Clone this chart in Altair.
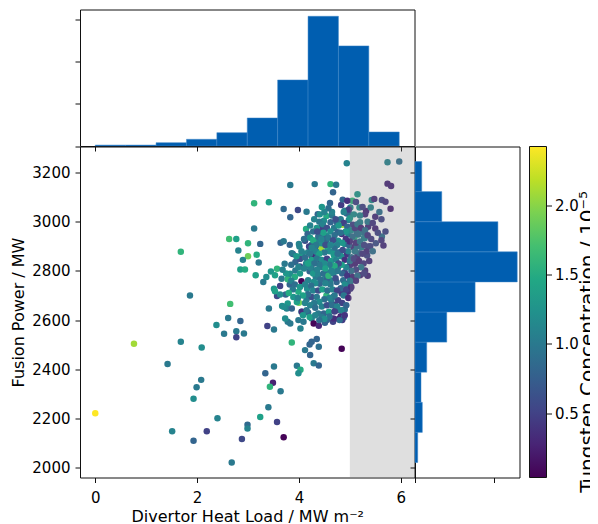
import altair as alt
import pandas as pd

# ---- scatter points: (divertor heat load [MW m^-2], fusion power [MW], tungsten conc. [1e-5]) ----
upper_points = [
    (4.94, 3238, 1.1), (5.74, 3242, 1.1), (5.97, 3245, 0.9), (3.83, 3149, 1.0), (4.31, 3153, 1.0),
    (4.62, 3153, 1.6), (4.73, 3150, 1.0), (4.67, 3120, 0.8), (5.74, 3155, 0.3), (5.81, 3145, 0.3),
    (5.15, 3112, 1.3), (5.05, 3085, 1.6), (3.12, 3075, 1.6), (3.41, 3079, 1.4), (3.70, 3052, 0.85),
    (3.98, 3048, 0.55), (4.15, 3041, 1.0), (4.37, 3031, 0.8), (3.83, 3018, 0.8), (4.61, 3076, 0.8),
    (4.83, 3068, 0.45), (4.90, 3045, 1.0), (4.94, 3034, 0.8), (5.19, 3058, 1.2), (5.32, 3044, 0.3),
    (5.43, 3088, 1.2), (5.48, 3093, 0.35), (5.63, 3088, 0.5), (5.70, 3081, 0.4), (5.41, 3058, 1.1),
    (5.80, 3053, 0.25), (4.54, 3023, 1.5), (4.65, 3025, 1.0), (4.49, 3004, 1.2), (4.62, 2998, 0.8),
    (4.74, 2998, 0.8), (4.86, 2988, 2.1), (4.98, 3007, 1.1), (5.06, 2988, 0.5), (5.20, 2998, 1.1),
    (5.26, 2957, 0.9), (5.36, 2980, 0.35), (5.50, 2973, 0.3), (5.62, 3010, 0.5), (5.63, 2940, 0.9),
    (5.51, 2913, 0.6), (5.66, 2903, 0.35), (3.12, 2973, 1.0), (4.14, 2971, 1.5), (4.17, 2950, 0.8),
    (4.43, 2975, 0.5), (4.51, 2971, 0.5), (4.42, 2950, 1.0), (4.54, 2944, 1.2), (4.69, 2975, 1.0),
    (4.76, 2957, 0.8), (4.84, 2950, 0.35), (4.97, 2950, 1.1), (5.09, 2937, 1.5), (5.17, 2948, 1.1),
    (5.28, 2934, 1.0),
]
middle_points = [
    (2.63, 2930, 1.7), (2.77, 2930, 1.4), (3.00, 2913, 1.6), (3.24, 2910, 0.8), (3.64, 2915, 0.8),
    (3.70, 2921, 1.0), (3.82, 2906, 0.8), (4.12, 2923, 0.6), (4.25, 2907, 0.95), (4.37, 2923, 1.1),
    (4.46, 2910, 1.0), (4.54, 2923, 0.8), (4.64, 2910, 1.4), (4.77, 2923, 1.2), (4.90, 2910, 1.2),
    (5.07, 2896, 0.35), (5.23, 2896, 1.1), (5.36, 2899, 0.5), (1.68, 2878, 1.6), (2.81, 2883, 1.1),
    (3.00, 2860, 1.9), (3.17, 2866, 1.5), (2.90, 2845, 1.1), (3.21, 2834, 1.0), (3.88, 2869, 0.6),
    (4.01, 2899, 1.1), (4.07, 2872, 1.2), (4.18, 2876, 1.1), (4.29, 2863, 0.8), (4.44, 2893, 2.1),
    (4.56, 2896, 1.5), (4.69, 2863, 1.4), (4.80, 2876, 0.8), (4.94, 2867, 0.4), (5.03, 2856, 0.9),
    (5.15, 2863, 0.35), (5.34, 2863, 0.5), (2.85, 2806, 1.4), (2.94, 2806, 1.5), (3.15, 2782, 1.4),
    (3.30, 2755, 1.0), (3.45, 2798, 1.3), (3.57, 2809, 1.6), (3.53, 2782, 1.4), (3.63, 2739, 0.5),
    (3.79, 2768, 1.2), (3.82, 2745, 0.8), (3.72, 2829, 1.0), (4.02, 2818, 0.55), (4.14, 2829, 1.1),
    (4.21, 2799, 0.8), (4.34, 2802, 1.4), (4.44, 2816, 1.2), (4.54, 2795, 1.0), (4.65, 2809, 1.3),
    (4.77, 2816, 0.8), (4.90, 2795, 0.5), (5.00, 2822, 0.35), (5.10, 2829, 0.3), (5.20, 2782, 0.3),
    (5.30, 2802, 0.35), (5.35, 2780, 0.3), (4.05, 2758, 0.05), (4.18, 2762, 1.1), (4.33, 2775, 1.0),
    (4.41, 2748, 0.8), (4.51, 2768, 1.2), (4.62, 2762, 1.1), (4.74, 2755, 0.8), (4.87, 2762, 0.9),
    (4.97, 2748, 0.5),
]
lower_points = [
    (1.86, 2700, 1.0), (2.65, 2666, 1.7), (3.51, 2728, 1.3), (3.57, 2698, 0.55), (3.74, 2704, 0.8),
    (3.67, 2657, 1.2), (3.78, 2668, 1.3), (3.89, 2694, 1.3), (3.99, 2715, 1.5), (4.00, 2671, 1.9),
    (4.15, 2684, 1.0), (4.25, 2694, 0.6), (4.35, 2694, 1.0), (4.54, 2700, 1.6), (4.67, 2694, 0.8),
    (4.77, 2681, 0.5), (4.84, 2708, 0.45), (4.96, 2715, 0.35), (3.41, 2647, 1.0), (3.76, 2647, 1.1),
    (4.05, 2634, 0.9), (4.18, 2631, 0.8), (4.25, 2607, 1.1), (4.38, 2627, 1.0), (4.49, 2627, 0.8),
    (4.59, 2634, 1.4), (4.71, 2657, 0.35), (4.82, 2616, 0.3), (4.90, 2643, 0.9), (4.88, 2611, 0.95),
    (3.78, 2593, 1.0), (3.99, 2600, 1.0), (4.03, 2566, 1.1), (4.29, 2586, 0.05), (4.39, 2577, 0.3),
    (4.51, 2589, 0.8), (4.67, 2593, 0.5), (2.38, 2580, 1.2), (2.61, 2609, 1.0), (2.85, 2596, 0.8),
    (2.53, 2545, 1.0), (2.77, 2555, 1.0), (2.92, 2546, 1.0), (2.77, 2530, 0.5), (3.38, 2576, 0.5),
    (3.51, 2562, 1.0), (0.76, 2504, 2.1), (1.68, 2512, 1.1), (2.09, 2489, 1.2), (1.42, 2422, 1.0),
    (3.86, 2509, 1.6), (4.25, 2512, 0.8), (4.35, 2523, 0.8), (4.21, 2501, 0.8), (4.12, 2478, 1.0),
    (4.22, 2458, 0.8), (4.39, 2492, 0.9), (4.84, 2484, 0.05), (3.51, 2411, 1.0), (3.34, 2384, 0.8),
    (3.96, 2414, 1.0), (4.03, 2398, 1.5), (3.99, 2384, 1.2), (4.29, 2425, 1.0), (4.39, 2415, 0.8),
    (2.08, 2357, 1.0), (1.99, 2327, 1.0), (1.93, 2280, 1.2), (3.49, 2345, 0.25), (3.43, 2329, 1.6),
    (3.64, 2311, 1.0), (3.40, 2246, 1.0), (3.24, 2206, 1.4), (2.40, 2201, 1.1), (0.00, 2221, 2.43),
    (1.51, 2148, 1.1), (2.19, 2148, 0.5), (1.93, 2109, 0.8), (2.99, 2175, 0.85), (2.99, 2159, 1.1),
    (2.88, 2117, 0.55), (3.57, 2186, 0.5), (3.70, 2124, 0.05), (2.68, 2021, 1.0),
]
extra_points = [
    (4.41, 3030, 1.2), (4.02, 2859, 1.4), (4.25, 2859, 0.3), (4.34, 2879, 1.2), (4.42, 2940, 0.5),
    (4.50, 2937, 0.8), (4.44, 2913, 1.2), (4.20, 2899, 0.5), (4.32, 2899, 0.45), (3.86, 2872, 1.0),
    (3.36, 2775, 1.2), (3.66, 2768, 1.0), (3.78, 2766, 1.6), (3.83, 2789, 1.2), (3.93, 2802, 1.0),
    (3.93, 2836, 0.8), (3.99, 2816, 1.1), (4.02, 2849, 0.6), (4.16, 2836, 1.2), (4.25, 2809, 1.0),
    (4.34, 2795, 0.8), (4.42, 2843, 0.35), (4.48, 2816, 1.0), (4.55, 2768, 0.8), (4.29, 2755, 1.2),
    (4.16, 2728, 1.2), (3.88, 2725, 1.0), (3.63, 2704, 1.2), (3.53, 2717, 1.4), (3.70, 2654, 1.2),
    (3.86, 2647, 0.8), (3.96, 2674, 1.4), (4.06, 2634, 0.35), (4.21, 2613, 1.4), (4.45, 2613, 1.0),
    (4.55, 2600, 0.8), (4.09, 2593, 1.0), (3.83, 2586, 1.0), (3.73, 2607, 1.2), (5.01, 3058, 1.1),
    (4.98, 3034, 0.8), (5.00, 3014, 1.3), (5.13, 2960, 0.9), (5.29, 2933, 1.1), (5.14, 2899, 0.9),
    (5.19, 2872, 0.8), (5.01, 2755, 1.0), (5.01, 2728, 0.4), (4.89, 2715, 0.5), (4.64, 2675, 1.0),
    (4.74, 2640, 0.5), (4.85, 2600, 0.45), (4.78, 2605, 0.3), (4.68, 2607, 0.35), (4.71, 2661, 0.5),
]
shaded_core_points = [
    (4.82, 3010, 1.0), (4.88, 2995, 0.5), (4.95, 2980, 0.8), (5.02, 2965, 1.2), (5.10, 2975, 0.4),
    (5.15, 2990, 1.0), (5.22, 2975, 0.3), (5.30, 2965, 0.9), (5.35, 2945, 0.4), (5.05, 2940, 0.9),
    (4.92, 2930, 0.4), (4.85, 2915, 1.3), (4.98, 2905, 0.8), (5.12, 2915, 0.35), (5.20, 2920, 1.0),
    (5.28, 2905, 0.5), (5.33, 2880, 0.35), (5.25, 2870, 0.4), (5.10, 2880, 1.0), (4.97, 2880, 1.1),
    (4.86, 2885, 0.6), (4.83, 2860, 1.2), (4.90, 2845, 0.35), (5.00, 2840, 1.0), (5.08, 2850, 0.45),
    (5.18, 2840, 0.3), (5.27, 2830, 0.4), (5.22, 2815, 1.0), (5.12, 2805, 0.5), (5.03, 2800, 0.9),
    (4.93, 2815, 1.1), (4.84, 2825, 1.4), (4.85, 2790, 0.8), (4.95, 2780, 0.4), (5.05, 2775, 0.3),
    (5.15, 2780, 0.9), (5.28, 2790, 0.45), (5.12, 2760, 0.35), (5.00, 2760, 1.0), (4.90, 2745, 1.2),
    (4.82, 2730, 0.8), (4.93, 2725, 0.5), (5.03, 2735, 0.35), (4.88, 2700, 1.0), (4.97, 2690, 0.3),
    (4.85, 2670, 0.5), (4.93, 2660, 0.8), (4.83, 2640, 1.1), (4.90, 2620, 0.4), (4.80, 2600, 0.9),
    (5.40, 2900, 0.5), (5.45, 2880, 0.9), (5.38, 2840, 0.35), (5.42, 2930, 0.45), (5.35, 3000, 1.0),
    (5.45, 2995, 0.4), (5.55, 2955, 0.5), (5.50, 3020, 0.35), (5.62, 2925, 0.4), (5.70, 2960, 0.5),
    (5.58, 3040, 0.9), (5.30, 3030, 0.35), (5.25, 3060, 0.5), (5.08, 3030, 1.2), (4.98, 3050, 0.45),
    (4.88, 3040, 1.1), (4.86, 3090, 0.8), (4.95, 3085, 0.35), (5.12, 3080, 0.5), (5.20, 3025, 1.1),
    (5.15, 2950, 0.9), (5.00, 2920, 0.35), (4.92, 2960, 1.3), (4.82, 2955, 0.9),
]
central_core_points = [
    (4.22, 2985, 1.1), (4.28, 2960, 0.9), (4.35, 2975, 1.3), (4.40, 3000, 1.0), (4.47, 2990, 1.1),
    (4.55, 2975, 0.6), (4.62, 2960, 1.2), (4.70, 2945, 0.9), (4.78, 2985, 1.3), (4.72, 3010, 0.6),
    (4.65, 3040, 1.1), (4.58, 3055, 0.9), (4.50, 3040, 1.1), (4.45, 3060, 1.3), (4.30, 3010, 1.1),
    (4.22, 2935, 1.3), (4.28, 2925, 1.5), (4.38, 2940, 0.9), (4.48, 2955, 1.4), (4.58, 2935, 1.0),
    (4.67, 2925, 0.6), (4.75, 2905, 1.1), (4.70, 2890, 0.9), (4.60, 2880, 1.2), (4.50, 2875, 1.0),
    (4.40, 2870, 1.4), (4.30, 2885, 1.1), (4.22, 2870, 1.0), (4.25, 2845, 1.4), (4.35, 2850, 1.0),
    (4.45, 2845, 1.2), (4.55, 2850, 0.5), (4.63, 2840, 1.3), (4.73, 2845, 1.1), (4.78, 2830, 0.6),
    (4.70, 2820, 1.5), (4.60, 2825, 1.0), (4.50, 2830, 1.2), (4.40, 2825, 1.0), (4.30, 2830, 0.9),
    (4.22, 2815, 1.1), (4.28, 2790, 1.3), (4.38, 2785, 1.1), (4.48, 2790, 0.9), (4.58, 2780, 1.6),
    (4.68, 2790, 1.1), (4.76, 2800, 1.0), (4.72, 2770, 0.6), (4.62, 2745, 1.0), (4.52, 2750, 1.1),
    (4.42, 2765, 0.9), (4.32, 2750, 1.2), (4.24, 2740, 0.9), (4.28, 2720, 1.1), (4.38, 2720, 0.6),
    (4.46, 2725, 1.4), (4.56, 2720, 0.9), (4.66, 2725, 1.1), (4.75, 2720, 0.5), (4.70, 2700, 1.0),
    (4.60, 2690, 1.1), (4.50, 2685, 0.9), (4.40, 2675, 1.2), (4.30, 2670, 1.0), (4.22, 2660, 1.1),
    (4.32, 2650, 0.9), (4.45, 2655, 1.1), (4.55, 2660, 0.6), (4.65, 2660, 0.9), (4.75, 2655, 1.1),
    (4.70, 2635, 0.5), (4.60, 2615, 0.9), (4.50, 2605, 1.2), (4.40, 2600, 0.9), (4.32, 2620, 1.1),
    (4.36, 2960, 0.6), (4.44, 2930, 1.1), (4.52, 2905, 0.6), (4.62, 2905, 1.1), (4.34, 2905, 1.0),
    (4.25, 2895, 1.1), (4.68, 2870, 1.3), (4.76, 2870, 0.9), (4.52, 2810, 1.4), (4.36, 2805, 1.1),
    (4.64, 2800, 1.1),
    (3.85, 2825, 0.9), (3.95, 2860, 1.3), (4.05, 2880, 1.1), (4.12, 2855, 0.9), (4.18, 2830, 1.4),
    (4.10, 2810, 1.1), (4.02, 2790, 1.3), (3.92, 2775, 1.5), (3.85, 2760, 1.1), (3.75, 2790, 1.3),
    (3.68, 2805, 1.1), (3.92, 2745, 0.9), (4.02, 2735, 1.3), (4.12, 2745, 1.1), (4.18, 2705, 0.9),
    (4.08, 2700, 1.4), (3.98, 2690, 1.1), (3.80, 2710, 1.5), (4.12, 2670, 1.1), (4.15, 2640, 1.0),
    (4.08, 2620, 1.3), (4.00, 2910, 1.1), (4.10, 2930, 0.9),
]

# ---- marginal histograms (bin edges and densities) ----
heat_bin_edges = [0.0, 0.597, 1.194, 1.791, 2.388, 2.985, 3.582, 4.179, 4.776, 5.373, 5.970]
heat_density = [0.0043, 0.0043, 0.0156, 0.0317, 0.0629, 0.1324, 0.312, 0.613, 0.473, 0.0662]
power_bin_edges = [2021, 2143.4, 2265.8, 2388.2, 2510.6, 2633.0, 2755.4, 2877.8, 3000.2, 3122.6, 3245.0]
power_density = [0.000068, 0.000184, 0.000151, 0.000295, 0.000799, 0.001513,
                  0.002573, 0.002086, 0.000673, 0.000169]

# ---- axes ----
heat_limit = 5.0
x_domain = [-0.30, 6.27]
y_domain = [1960, 3306]
c_domain = [0.033, 2.43]
x_ticks = [0, 2, 4, 6]
y_ticks = [2000, 2200, 2400, 2600, 2800, 3000, 3200]
c_ticks = [0.5, 1.0, 1.5, 2.0]
top_density_domain = [0, 0.645]
top_density_ticks = [0, 0.2, 0.4, 0.6]
right_density_domain = [0, 0.00263]
right_density_ticks = [0, 0.002]

# ---- layout / style ----
HIST_BLUE = "#005eb0"
MAIN_W, MAIN_H = 334.5, 331
TOP_H = 136.5
RIGHT_W = 104.5
CBAR_GAP, CBAR_W = 9.5, 17
FONT = "DejaVu Sans"
FRAME = "#111111"
PAD_LEFT, PAD_TOP = 72, 1.5
SVG_W, SVG_H = 582, 520

pts = pd.DataFrame(upper_points + middle_points + lower_points + extra_points
                   + shaded_core_points + central_core_points,
                   columns=["heat", "power", "w"])

xs = alt.Scale(domain=x_domain, nice=False, zero=False)
ys = alt.Scale(domain=y_domain, nice=False, zero=False)

scatter = alt.Chart(pts).mark_circle(size=42, opacity=1).encode(
    x=alt.X("heat:Q", scale=xs,
            axis=alt.Axis(values=x_ticks, format="d", title="Divertor Heat Load / MW m⁻²",
                          labelPadding=8, titleBaseline="alphabetic", titleY=43.5)),
    y=alt.Y("power:Q", scale=ys,
            axis=alt.Axis(values=y_ticks, format="d", title="Fusion Power / MW",
                          labelPadding=5, titleBaseline="alphabetic", titleX=-57)),
    color=alt.Color("w:Q", scale=alt.Scale(scheme="viridis", domain=c_domain), legend=None),
)
shade = alt.Chart(pd.DataFrame({"s": [heat_limit], "e": [x_domain[1]]})).mark_rect(
    color="gray", opacity=0.25
).encode(
    x=alt.X("s:Q", scale=xs, title="Divertor Heat Load / MW m⁻²"),
    x2="e:Q",
    y=alt.datum(y_domain[0]),
    y2=alt.datum(y_domain[1]),
)
main = alt.layer(scatter, shade).properties(width=MAIN_W, height=MAIN_H)

top_df = pd.DataFrame({"lo": heat_bin_edges[:-1], "hi": heat_bin_edges[1:], "d": heat_density})
top = alt.Chart(top_df).mark_rect(color=HIST_BLUE, stroke="#3f86c8", strokeWidth=0.5).encode(
    x=alt.X("lo:Q", scale=xs, axis=alt.Axis(values=x_ticks, labels=False, title=None)),
    x2="hi:Q",
    y=alt.Y("d:Q", scale=alt.Scale(domain=top_density_domain, nice=False),
            axis=alt.Axis(values=top_density_ticks, labels=False, title=None)),
    y2=alt.datum(0),
).properties(width=MAIN_W, height=TOP_H)

right_df = pd.DataFrame({"lo": power_bin_edges[:-1], "hi": power_bin_edges[1:], "d": power_density})
right = alt.Chart(right_df).mark_rect(color=HIST_BLUE, stroke="#3f86c8", strokeWidth=0.5).encode(
    y=alt.Y("lo:Q", scale=ys, axis=alt.Axis(values=y_ticks, labels=False, title=None)),
    y2="hi:Q",
    x=alt.X("d:Q", scale=alt.Scale(domain=right_density_domain, nice=False),
            axis=alt.Axis(values=right_density_ticks, labels=False, title=None)),
    x2=alt.datum(0),
).properties(width=RIGHT_W, height=MAIN_H)

viridis = ["#440154", "#482475", "#414487", "#355f8d", "#2a788e", "#21918c",
           "#22a884", "#44bf70", "#7ad151", "#bddf26", "#fde725"]
grad = alt.Gradient(
    gradient="linear",
    stops=[alt.GradientStop(color=c, offset=i / 10) for i, c in enumerate(viridis)],
    x1=0, x2=0, y1=1, y2=0,
)
cbar = alt.Chart(pd.DataFrame({"lo": [c_domain[0]], "hi": [c_domain[1]]})).mark_rect(
    fill=grad, stroke=FRAME, strokeWidth=1
).encode(
    y=alt.Y("lo:Q", scale=alt.Scale(domain=c_domain, nice=False, zero=False),
            axis=alt.Axis(orient="right", values=c_ticks, format=".1f", labelPadding=3,
                          title="Tungsten Concentration / 10⁻⁵", titleAngle=270,
                          titleFontSize=20, titleBaseline="alphabetic", titleAlign="right",
                          titleX=46.5, titleY=44)),
    y2="hi:Q",
    x=alt.value(CBAR_GAP),
    x2=alt.value(CBAR_GAP + CBAR_W),
).properties(width=CBAR_GAP + CBAR_W, height=MAIN_H,
             view=alt.ViewBackground(stroke="transparent"))

row = alt.hconcat(main, right, cbar, spacing=0, bounds="flush")
chart = alt.vconcat(
    top, row, spacing=0, bounds="flush",
    autosize=alt.AutoSizeParams(type="none"),
    padding={"left": PAD_LEFT, "top": PAD_TOP,
             "right": SVG_W - PAD_LEFT, "bottom": SVG_H - PAD_TOP},
)

chart = chart.configure(font=FONT).configure_view(stroke=FRAME, strokeWidth=1).configure_axis(
    grid=False, domain=False, ticks=True, tickSize=5, tickColor=FRAME, tickWidth=1,
    labelFontSize=15, titleFontSize=16, labelColor="black", titleColor="black",
    titleFontWeight="normal", labelFont=FONT, titleFont=FONT,
)

chart.save("out.html", embed_options={"renderer": "svg", "actions": False})
